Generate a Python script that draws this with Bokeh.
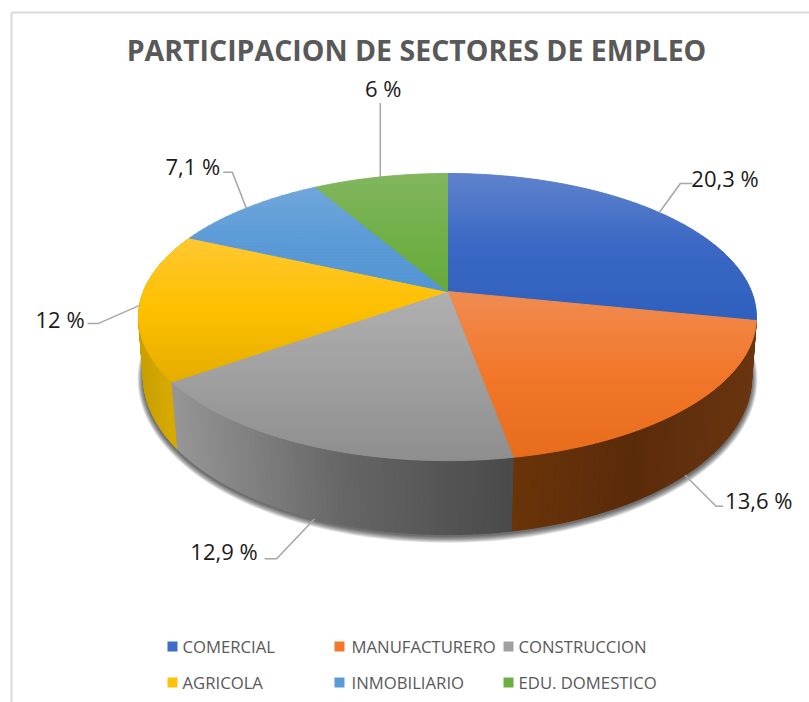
import numpy as np
from bokeh.plotting import figure
from bokeh.models import Range1d
from bokeh.core.properties import value
from bokeh.embed import file_html
from bokeh.resources import INLINE

TITLE = "PARTICIPACION DE SECTORES DE EMPLEO"
categories = ["COMERCIAL", "MANUFACTURERO", "CONSTRUCCION", "AGRICOLA", "INMOBILIARIO", "EDU. DOMESTICO"]
values = [20.3, 13.6, 12.9, 12, 7.1, 6]
legend_colors = ["#3f6cc4", "#f2782d", "#a0a0a0", "#ffc20a", "#5b9bd5", "#6cae42"]
top_stops = [
    ["#5f82cc", "#3a68c4", "#2f60bd"],
    ["#ef8c52", "#f3772a", "#e76c1b"],
    ["#b0b0b0", "#a0a0a0", "#8e8e8e"],
    ["#ffc832", "#fec000", "#e6ad00"],
    ["#70a6dc", "#5c9bd7", "#5396d4"],
    ["#82b65f", "#72b049", "#66aa38"],
]
wall_stops = [None, ["#6b3409", "#5a2b0a", "#6a3510"], ["#969696", "#666666", "#494949"], ["#c9a000", "#d6aa00", "#d8ab00"], None, None]
leader_elbow = [(21, -29), (31, 31), (-38, 40), (-41, 18), (-14, -36), (0, -74)]
leader_end = [(33, -29), (38, 31), (-50, 40), (-52, 18), (-23, -36), (0, -74)]
leader_lower = [False, True, True, False, False, False]
label_gap = [(-1, -6), (2, -6), (-7, -8), (-3, -4), (-3, -6), (3, -15)]
label_align = ["left", "left", "right", "right", "right", "center"]

CX = 447.0
TOP = dict(ax=291.0, R=304.0, k=139.0, c=0.178)
LOW = dict(ax=350.0, R=300.0, k=153.7, c=0.165)


def project(t, d, grow=0.0, dy=0.0):
    u, v = np.sin(t), np.cos(t)
    s = 1 / (1 + d["c"] * v)
    return CX + (d["R"] + grow) * u * s, d["ax"] + dy - (d["k"] + grow) * v * s


def hexrgb(h):
    return np.array([int(h[i:i + 2], 16) for i in (1, 3, 5)], float)


def ramp(stops, f):
    f = min(max(f, 0.0), 1.0) * (len(stops) - 1)
    i = min(int(f), len(stops) - 2)
    c = hexrgb(stops[i]) * (1 - (f - i)) + hexrgb(stops[i + 1]) * (f - i)
    return "#%02x%02x%02x" % tuple(int(round(x)) for x in c)


def clip(poly, y0, y1):
    def half(pts, keep, cross):
        out = []
        for a, b in zip(pts, pts[1:] + pts[:1]):
            ka, kb = keep(a), keep(b)
            if ka:
                out.append(a)
            if ka != kb:
                f = (cross - a[1]) / (b[1] - a[1])
                out.append((a[0] + f * (b[0] - a[0]), cross))
        return out
    p = half(poly, lambda q: q[1] >= y0, y0)
    if p:
        p = half(p, lambda q: q[1] <= y1, y1)
    return p


fracs = np.array(values) / sum(values) * 2 * np.pi
ends = np.cumsum(fracs)
starts = ends - fracs

p = figure(width=809, height=702, x_range=Range1d(0, 809), y_range=Range1d(702, 0),
           output_backend="svg", toolbar_location=None, min_border=0)
p.axis.visible = False
p.grid.visible = False
p.outline_line_color = None
p.background_fill_color = "white"

# frame
p.line([11, 11], [702, 12], line_color="#d9d9d9", line_width=2)
p.line([11, 809], [12, 12], line_color="#d9d9d9", line_width=2)

# soft shadow under the base
tt = np.linspace(0, 2 * np.pi, 240)
for g in [7, 6, 5, 4, 3, 2, 1]:
    sx, sy = project(tt, LOW, grow=g * 0.8, dy=1.5)
    p.patch(sx, sy, fill_color="#000000", fill_alpha=0.11, line_color=None)

# walls, shaded along x
for i in [3, 1, 2]:
    ts = np.linspace(starts[i], ends[i], 70)
    tx, ty = project(ts, TOP)
    bx, by = project(ts, LOW)
    vis0, vis1 = min(bx.min(), tx.min()), max(bx.max(), tx.max())
    xs, ys, cs = [], [], []
    for j in range(len(ts) - 1):
        xs.append([tx[j], tx[j + 1], bx[j + 1], bx[j]])
        ys.append([ty[j], ty[j + 1], by[j + 1], by[j]])
        cs.append(ramp(wall_stops[i], (0.5 * (tx[j] + tx[j + 1]) - vis0) / (vis1 - vis0)))
    p.patches(xs, ys, fill_color=cs, line_color=cs, line_width=1)

# top face in thin gradient bands
for i in range(len(values)):
    ts = np.linspace(starts[i], ends[i], 90)
    tx, ty = project(ts, TOP)
    poly = [(CX, TOP["ax"])] + list(zip(tx.tolist(), ty.tolist()))
    ymin, ymax = min(q[1] for q in poly), max(q[1] for q in poly)
    edges = np.arange(ymin, ymax + 3, 3)
    xs, ys, cs = [], [], []
    for y0, y1 in zip(edges[:-1], edges[1:]):
        c = clip(poly, y0, y1)
        if len(c) >= 3:
            xs.append([q[0] for q in c])
            ys.append([q[1] for q in c])
            cs.append(ramp(top_stops[i], (0.5 * (y0 + y1) - ymin) / (ymax - ymin)))
    p.patches(xs, ys, fill_color=cs, line_color=cs, line_width=1)

# leaders and value labels
for i, v in enumerate(values):
    mid = starts[i] + fracs[i] / 2
    ax, ay = project(mid, LOW if leader_lower[i] else TOP)
    ax, ay = float(ax), float(ay)
    ex, ey = leader_elbow[i]
    fx, fy = leader_end[i]
    p.line([ax, ax + ex, ax + fx], [ay, ay + ey, ay + fy], line_color="#a6a6a6", line_width=1.5)
    lx, ly = label_gap[i]
    p.text([ax + fx + lx], [ay + fy + ly], text=[f"{v:g}".replace(".", ",") + " %"],
           text_font=value("Open Sans"), text_font_size="22px", text_color="#1a1a1a",
           text_align=label_align[i], text_baseline="middle")

# title
p.text([416], [49], text=[TITLE], text_font=value("Open Sans"), text_font_style="bold",
       text_font_size="28.5px", text_color="#595959", text_align="center", text_baseline="middle")

# legend
col_sq = [172, 339, 508]
col_tx = [182, 351, 518]
row_y = [646, 682]
for i, name in enumerate(categories):
    c, r = i % 3, i // 3
    p.scatter([col_sq[c]], [row_y[r]], marker="square", size=10, fill_color=legend_colors[i], line_color=None)
    p.text([col_tx[c]], [row_y[r]], text=[name], text_font=value("Open Sans"), text_font_size="16.7px",
           text_color="#595959", text_align="left", text_baseline="middle")

open("out.html", "w").write(file_html(p, INLINE))
